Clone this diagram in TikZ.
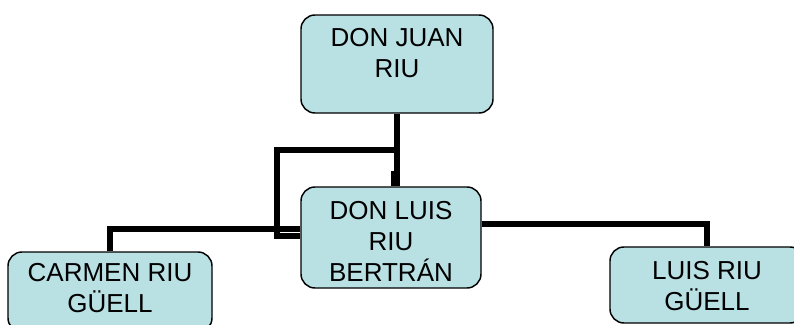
\documentclass[tikz,border=0pt]{standalone}
\usepackage{fontspec}
\setmainfont{Liberation Sans}
\definecolor{boxfill}{RGB}{185,224,227}
\newcommand\bxtext[4]{\parbox[c][\dimexpr0.75pt*#2\relax][t]{\dimexpr0.75pt*#1\relax}{\centering\fontsize{19.5pt}{23.25pt}\selectfont\vspace*{\dimexpr0.75pt*#3\relax}#4}}
\begin{document}
\begin{tikzpicture}[x=0.75pt,y=-0.75pt,
  box/.style={draw=black, line width=1.1pt, fill=boxfill, rounded corners=10.5pt, inner sep=0pt},
  conn/.style={line width=4.5pt, draw=black},
  loopconn/.style={line width=3.8pt, draw=black}]
\useasboundingbox (0,0) rectangle (794,325);
\clip (0,0) rectangle (794,325);
\node[box] (juan) at (397,64) {\bxtext{192}{98}{13}{DON JUAN\\RIU}};
\node[box] (luis) at (391,237.5) {\bxtext{180}{101}{14}{DON LUIS\\RIU\\BERTRÁN}};
\node[box] (carmen) at (110,292) {\bxtext{204}{80}{11}{CARMEN RIU\\GÜELL}};
\node[box] (hijo) at (707,285) {\bxtext{194}{76}{14}{LUIS RIU\\GÜELL}};
\coordinate (loopA) at (394,174);
\coordinate (loopB) at (397,150);
\coordinate (loopC) at (277,150);
\coordinate (loopD) at (277,236);
\draw[loopconn] (loopA |- luis.north) -- (loopA) -- (loopA -| juan.south) -- (loopB) -- (loopC) -- (loopD) -- (loopD -| luis.west);
\draw[conn] (juan.south) -- (juan.south |- luis.north);
\draw[conn] (luis.west |- 0,228.5) -| (carmen.north);
\draw[conn] (luis.east |- 0,224) -| (hijo.north);
\end{tikzpicture}
\end{document}
